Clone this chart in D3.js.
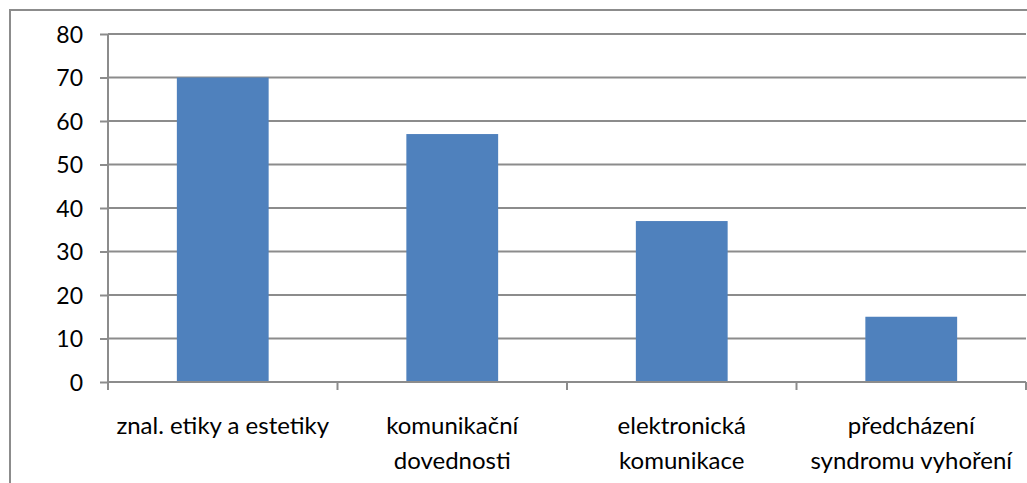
<!DOCTYPE html>
<html>
<head>
<meta charset="utf-8">
<script src="https://cdn.jsdelivr.net/npm/d3@7"></script>
<style>
  body { margin: 0; background: #fff; }
  text { font-family: Lato, "Open Sans", sans-serif; fill: #000; }
</style>
</head>
<body>
<div class="chart"></div>
<script>
const categories = [
  ["znal. etiky a estetiky"],
  ["komunikační", "dovednosti"],
  ["elektronická", "komunikace"],
  ["předcházení", "syndromu vyhoření"]
];
const values = [70, 57, 37, 15];
const yTicks = [0, 10, 20, 30, 40, 50, 60, 70, 80];

let margin = { top: 34, right: 1, bottom: 101, left: 108 };
let width = 1027 - margin.left - margin.right;
let height = 483 - margin.top - margin.bottom;

let root = d3
  .select(".chart")
  .append("svg")
  .attr("width", 1027)
  .attr("height", 483);

// outer chart frame (right and bottom run off the picture)
root
  .append("path")
  .attr("d", "M10,483 L10,10 L1027,10")
  .attr("fill", "none")
  .attr("stroke", "#8c8c8c")
  .attr("stroke-width", 2);

let svg = root
  .append("g")
  .attr("transform", `translate(${margin.left}, ${margin.top})`);

const xScale = d3
  .scaleBand()
  .domain(d3.range(categories.length))
  .range([0, width])
  .paddingInner(0.6)
  .paddingOuter(0.3);

const bandScale = d3
  .scaleBand()
  .domain(d3.range(categories.length))
  .range([0, width]);

const yScale = d3.scaleLinear().domain([0, 80]).range([height, 0]);

// gridlines
svg
  .selectAll(".grid")
  .data(yTicks.slice(1))
  .enter()
  .append("line")
  .attr("x1", 0)
  .attr("x2", width)
  .attr("y1", d => yScale(d))
  .attr("y2", d => yScale(d))
  .attr("stroke", "#8c8c8c")
  .attr("stroke-width", 2);

// bars
svg
  .selectAll(".bar")
  .data(values)
  .enter()
  .append("rect")
  .attr("x", (d, i) => xScale(i))
  .attr("width", xScale.bandwidth())
  .attr("y", d => yScale(d))
  .attr("height", d => height - yScale(d))
  .attr("fill", "#4f81bd");

// y axis
let yAxis = svg
  .append("g")
  .call(d3.axisLeft(yScale).tickValues(yTicks).tickSize(8).tickPadding(17));
yAxis.select(".domain").remove();
yAxis.selectAll(".tick line").attr("stroke", "#8c8c8c").attr("stroke-width", 2);
yAxis.selectAll("text").style("font-size", "23px").attr("dy", "0.36em");
svg
  .append("line")
  .attr("x1", 0).attr("x2", 0)
  .attr("y1", 0).attr("y2", height)
  .attr("stroke", "#8c8c8c")
  .attr("stroke-width", 2);

// x axis
svg
  .append("line")
  .attr("x1", 0).attr("x2", width)
  .attr("y1", height).attr("y2", height)
  .attr("stroke", "#8c8c8c")
  .attr("stroke-width", 2);
svg
  .selectAll(".xtick")
  .data(d3.range(categories.length + 1))
  .enter()
  .append("line")
  .attr("x1", i => i * bandScale.step())
  .attr("x2", i => i * bandScale.step())
  .attr("y1", height)
  .attr("y2", height + 8)
  .attr("stroke", "#8c8c8c")
  .attr("stroke-width", 2);

let labels = svg
  .selectAll(".xlabel")
  .data(categories)
  .enter()
  .append("text")
  .attr("text-anchor", "middle")
  .style("font-size", "24px")
  .attr("transform", (d, i) => `translate(${bandScale(i) + bandScale.bandwidth() / 2}, ${height + 52})`);

labels
  .selectAll("tspan")
  .data(d => d)
  .enter()
  .append("tspan")
  .attr("x", 0)
  .attr("y", (d, j) => j * 35)
  .text(d => d);
</script>
</body>
</html>
